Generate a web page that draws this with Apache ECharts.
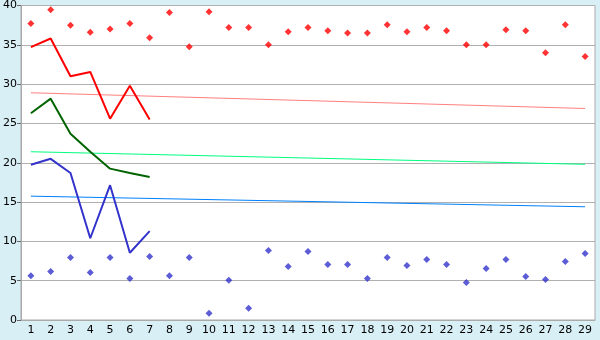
<!DOCTYPE html>
<html><head><meta charset="utf-8">
<script src="https://cdn.jsdelivr.net/npm/echarts@6/dist/echarts.min.js"></script>
<style>html,body{margin:0;padding:0;background:#d9eff6}#c{width:600px;height:340px}</style>
</head><body><div id="c"></div>
<script>
var categories = ['1','2','3','4','5','6','7','8','9','10','11','12','13','14','15','16','17','18','19','20','21','22','23','24','25','26','27','28','29'];
var redPoints = [37.7,39.45,37.5,36.6,37.0,37.7,35.9,39.1,34.75,39.2,37.2,37.2,35.0,36.65,37.2,36.8,36.5,36.5,37.55,36.65,37.2,36.8,35.0,35.0,36.9,36.8,34.0,37.55,33.5];
var bluePoints = [5.63,6.18,7.96,6.05,7.96,5.29,8.08,5.63,7.96,0.85,5.04,1.48,8.85,6.82,8.72,7.07,7.07,5.29,7.96,6.94,7.7,7.07,4.78,6.56,7.7,5.54,5.16,7.45,8.46];
var redLine = [34.7,35.8,31.0,31.55,25.6,29.8,25.5];
var greenLine = [26.3,28.15,23.7,21.4,19.25,18.7,18.2];
var blueLine = [19.75,20.5,18.7,10.4,17.15,8.55,11.3];
var redTrend = [28.9,26.9];
var greenTrend = [21.4,19.8];
var blueTrend = [15.75,14.4];
var yTicks = {min:0,max:40,interval:5};

var first = categories[0], last = categories[categories.length-1];
function trend(v){return [[first,v[0]],[last,v[1]]];}
function lineSeries(d,color){return {type:'line',data:d,symbol:'none',lineStyle:{color:color,width:2},itemStyle:{color:color},animation:false,z:3};}
function trendSeries(v,color){return {type:'line',data:trend(v),symbol:'none',lineStyle:{color:color,width:1},itemStyle:{color:color},animation:false,z:2};}
function scatterSeries(d,color){return {type:'scatter',data:d,symbol:'diamond',symbolSize:7,itemStyle:{color:color},animation:false,z:4};}

var chart = echarts.init(document.getElementById('c'));
chart.setOption({
  backgroundColor:'#d9eff6',
  grid:{left:20,right:5,top:5,bottom:20,show:true,backgroundColor:'#ffffff',borderColor:'#aaaaaa',borderWidth:1},
  xAxis:{type:'category',data:categories,boundaryGap:true,
    axisLine:{lineStyle:{color:'#aaaaaa'}},
    axisTick:{alignWithLabel:true,length:4,lineStyle:{color:'#000'}},
    axisLabel:{color:'#000',fontFamily:'DejaVu Sans',fontSize:11,margin:5,interval:0}},
  yAxis:{type:'value',min:yTicks.min,max:yTicks.max,interval:yTicks.interval,
    axisLine:{show:true,lineStyle:{color:'#aaaaaa'}},
    axisTick:{show:true,length:4,lineStyle:{color:'#666'}},
    splitLine:{lineStyle:{color:'#b0b0b0'}},
    axisLabel:{color:'#000',fontFamily:'DejaVu Sans',fontSize:11,margin:4}},
  series:[
    trendSeries(redTrend,'#ff8080'),
    trendSeries(greenTrend,'#00ff80'),
    trendSeries(blueTrend,'#0080ff'),
    lineSeries(redLine,'#ff0000'),
    lineSeries(greenLine,'#006400'),
    lineSeries(blueLine,'#3333cc'),
    scatterSeries(redPoints,'#ff0000'),
    scatterSeries(bluePoints,'#3333cc')
  ]
});
</script></body></html>
